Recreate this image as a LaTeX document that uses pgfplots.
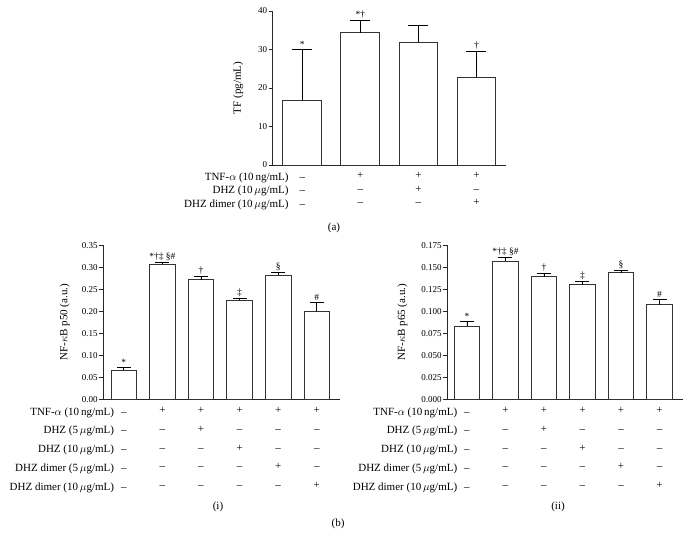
\documentclass[border=0pt]{standalone}
\usepackage{pgfplots}
\pgfplotsset{compat=1.18}
\usepackage{fontspec}
\setmainfont{Liberation Serif}
\newcommand{\rlA}[1]{\llap{#1\hspace{11pt}}}
\newcommand{\rlB}[1]{\llap{#1\hspace{7pt}}}
\newcommand{\mi}{–}
\newcommand{\pl}{+}
\begin{document}
\begin{tikzpicture}[x=1pt,y=1pt]
\useasboundingbox (0,0) rectangle (686,547);
\pgfplotsset{
  mybars/.style={
    scale only axis, height=154pt, clip=false,
    axis x line*=bottom, axis y line*=left,
    axis line style={black!85, line width=0.7pt},
    ymin=0,
    x tick style={draw=none},
    major x tick style={draw=none},
    tick align=outside, major tick length=4pt,
    y tick style={black!85, line width=0.6pt},
    yticklabel style={font=\fontsize{9}{10}\selectfont, inner sep=1.5pt},
    xticklabel style={align=center, inner sep=2pt},
    /pgf/number format/assume math mode=true,
    ylabel style={font=\fontsize{11}{13}\selectfont, anchor=center},
  },
  barplot/.style={ybar, fill=white, draw=black!80, line width=0.8pt,
    error bars/.cd, y dir=plus, y explicit,
    error bar style={black, line width=0.7pt},
    error mark options={rotate=90, black, line width=0.7pt, mark size=#1}},
}
\newcommand{\ann}[2]{\node[above, inner sep=1.5pt, font=\fontsize{9.5}{10}\selectfont] at (axis cs:#1) {#2};}
% ---------------- (a)
\begin{axis}[mybars, at={(272.7pt,382pt)}, anchor=south west,
  width=233.3pt, xmin=-0.51, xmax=3.51, ymax=40,
  ytick={0,10,20,30,40},
  xtick={0,1,2,3},
  xticklabel style={font=\fontsize{11}{13.5}\selectfont, yshift=-1.5pt},
  xticklabels={
    {\rlA{TNF-$\alpha$ (10\,ng/mL)}\mi\\\rlA{DHZ (10\,$\mu$g/mL)}\mi\\\rlA{DHZ dimer (10\,$\mu$g/mL)}\mi},
    {\pl\\\mi\\\mi},
    {\pl\\\pl\\\mi},
    {\pl\\\mi\\\pl}},
  ylabel={TF (pg/mL)},
  ylabel style={at={(axis description cs:-0.148,0.5)}},
  bar width=0.67,
]
\addplot[barplot=10pt] coordinates {
  (0,16.8) +- (0,13.3)
  (1,34.4) +- (0,3.1)
  (2,31.9) +- (0,4.5)
  (3,22.8) +- (0,6.6)
};
\ann{0,30.1}{*}
\ann{1,37.5}{*†}
\ann{3,29.4}{†}
\end{axis}
% ---------------- (i)
\begin{axis}[mybars, at={(103.3pt,147.7pt)}, anchor=south west,
  width=236.7pt, xmin=-0.53, xmax=5.6, ymax=0.35,
  ytick={0,0.05,0.10,0.15,0.20,0.25,0.30,0.35},
  yticklabel style={/pgf/number format/.cd, fixed, fixed zerofill, precision=2},
  xtick={0,1,2,3,4,5},
  xticklabel style={font=\fontsize{11}{18.75}\selectfont, yshift=-2pt},
  xticklabels={
    {\rlB{TNF-$\alpha$ (10\,ng/mL)}\mi\\\rlB{DHZ (5\,$\mu$g/mL)}\mi\\\rlB{DHZ (10\,$\mu$g/mL)}\mi\\\rlB{DHZ dimer (5\,$\mu$g/mL)}\mi\\\rlB{DHZ dimer (10\,$\mu$g/mL)}\mi},
    {\pl\\\mi\\\mi\\\mi\\\mi},
    {\pl\\\pl\\\mi\\\mi\\\mi},
    {\pl\\\mi\\\pl\\\mi\\\mi},
    {\pl\\\mi\\\mi\\\pl\\\mi},
    {\pl\\\mi\\\mi\\\mi\\\pl}},
  ylabel={NF-$\kappa$B p50 (a.u.)},
  ylabel style={at={(axis description cs:-0.163,0.5)}},
  bar width=0.666,
]
\addplot[barplot=7pt] coordinates {
  (0,0.0667) +- (0,0.0060)
  (1,0.3076) +- (0,0.0045)
  (2,0.2720) +- (0,0.0075)
  (3,0.2250) +- (0,0.0038)
  (4,0.2826) +- (0,0.0060)
  (5,0.2000) +- (0,0.0197)
};
\ann{0,0.0727}{*}
\ann{1,0.3121}{*†‡ §\#}
\ann{2,0.2795}{†}
\ann{3,0.2288}{‡}
\ann{4,0.2886}{§}
\ann{5,0.2197}{\#}
\end{axis}
% ---------------- (ii)
\begin{axis}[mybars, at={(447.3pt,147.7pt)}, anchor=south west,
  width=235.7pt, xmin=-0.51, xmax=5.61, ymax=0.175,
  ytick={0,0.025,0.05,0.075,0.10,0.125,0.15,0.175},
  yticklabel style={/pgf/number format/.cd, fixed, fixed zerofill, precision=3},
  xtick={0,1,2,3,4,5},
  xticklabel style={font=\fontsize{11}{18.75}\selectfont, yshift=-2pt},
  xticklabels={
    {\rlB{TNF-$\alpha$ (10\,ng/mL)}\mi\\\rlB{DHZ (5\,$\mu$g/mL)}\mi\\\rlB{DHZ (10\,$\mu$g/mL)}\mi\\\rlB{DHZ dimer (5\,$\mu$g/mL)}\mi\\\rlB{DHZ dimer (10\,$\mu$g/mL)}\mi},
    {\pl\\\mi\\\mi\\\mi\\\mi},
    {\pl\\\pl\\\mi\\\mi\\\mi},
    {\pl\\\mi\\\pl\\\mi\\\mi},
    {\pl\\\mi\\\mi\\\pl\\\mi},
    {\pl\\\mi\\\mi\\\mi\\\pl}},
  ylabel={NF-$\kappa$B p65 (a.u.)},
  ylabel style={at={(axis description cs:-0.19,0.5)}},
  bar width=0.666,
]
\addplot[barplot=7pt] coordinates {
  (0,0.0828) +- (0,0.0056)
  (1,0.1570) +- (0,0.0045)
  (2,0.1395) +- (0,0.0041)
  (3,0.1304) +- (0,0.0034)
  (4,0.1440) +- (0,0.0030)
  (5,0.1077) +- (0,0.0061)
};
\ann{0,0.0884}{*}
\ann{1,0.1615}{*†‡ §\#}
\ann{2,0.1436}{†}
\ann{3,0.1338}{‡}
\ann{4,0.1470}{§}
\ann{5,0.1138}{\#}
\end{axis}
\node[font=\fontsize{11}{13}\selectfont] at (334,319) {(a)};
\node[font=\fontsize{11}{13}\selectfont] at (218,40.3) {(i)};
\node[font=\fontsize{11}{13}\selectfont] at (558,40.3) {(ii)};
\node[font=\fontsize{11}{13}\selectfont] at (338,23) {(b)};
\end{tikzpicture}
\end{document}
